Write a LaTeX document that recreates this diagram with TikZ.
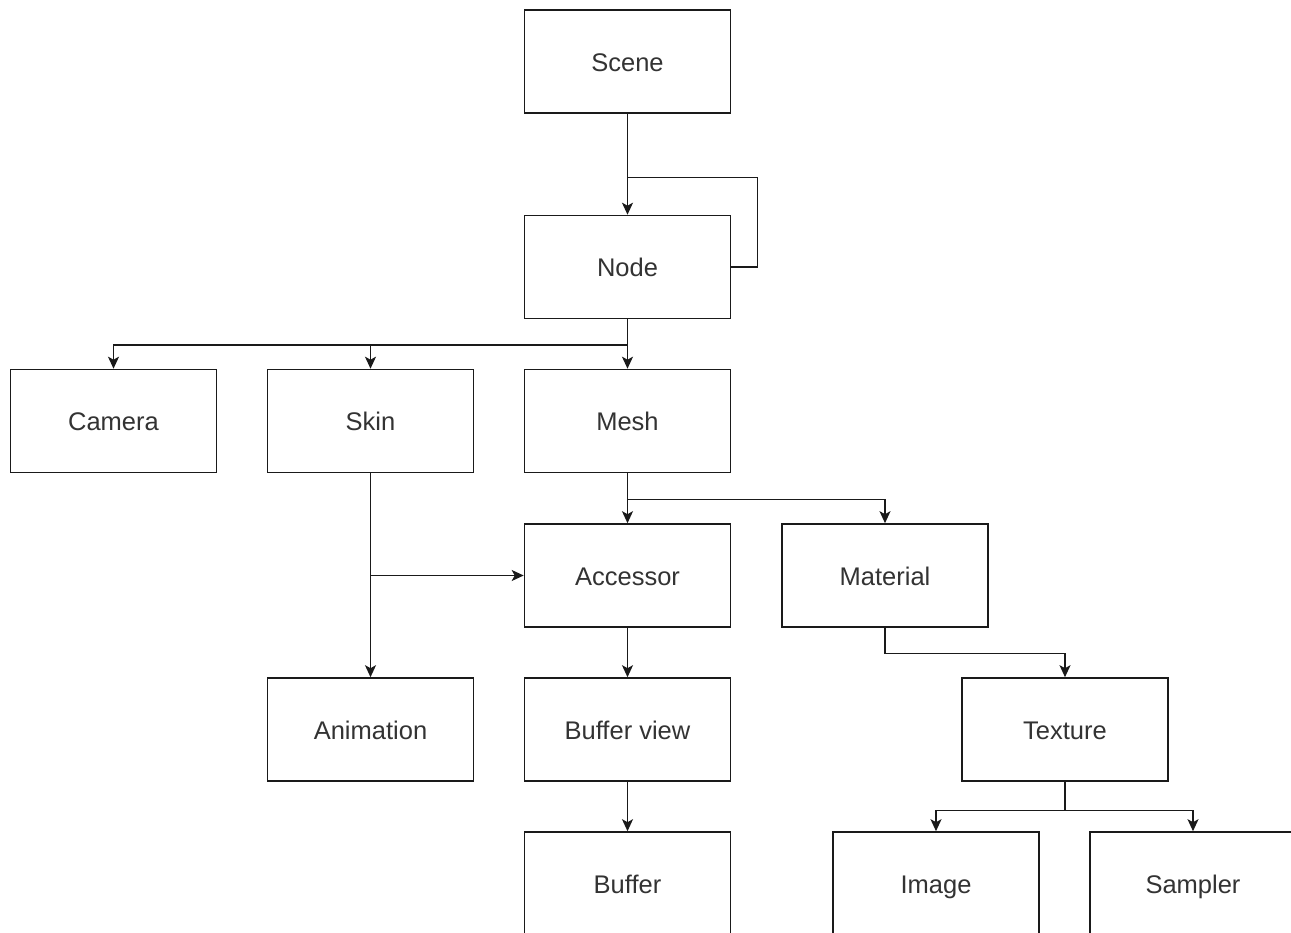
\documentclass[tikz,border=0pt]{standalone}
\usepackage{fontspec}
\setmainfont{Liberation Sans}
\usetikzlibrary{arrows.meta,positioning,calc}
\definecolor{txt}{HTML}{333333}
\definecolor{ln}{HTML}{1A1A1A}
\tikzset{
  box/.style={draw=ln, line width=1.6pt, fill=white, minimum width=206pt,
    minimum height=103pt, inner sep=0pt, font=\fontsize{25.5}{30}\selectfont,
    text=txt, text height=19.4pt, text depth=0pt},
  link/.style={draw=ln, line width=1.6pt},
  arr/.style={link, -{Stealth[length=12pt,width=11pt,inset=3pt]}},
}
\begin{document}
\begin{tikzpicture}[x=1pt,y=-1pt]
  \useasboundingbox (0,0) rectangle (1291,933);
  \clip (0,0) rectangle (1291,933);
  \fill[white] (0,0) rectangle (1291,933);

  % boxes
  \node[box] (scene)   at (627.5, 61.5)  {Scene};
  \node[box] (node)    at (627.5, 267)   {Node};
  \node[box] (camera)  at (113.5, 421)   {Camera};
  \node[box] (skin)    at (370.5, 421)   {Skin};
  \node[box] (mesh)    at (627.5, 421)   {Mesh};
  \node[box] (access)  at (627.5, 575.5) {Accessor};
  \node[box] (mat)     at (885, 575.5)   {Material};
  \node[box] (anim)    at (370.5, 729.5) {Animation};
  \node[box] (bview)   at (627.5, 729.5) {Buffer view};
  \node[box] (tex)     at (1065, 729.5)  {Texture};
  \node[box] (buffer)  at (627.5, 883.5) {Buffer};
  \node[box] (image)   at (936, 883.5)   {Image};
  \node[box] (sampler) at (1193, 883.5)  {Sampler};

  % scene to node, with the node's loop back onto itself
  \coordinate (loopin) at ($(scene.south)!0.63!(node.north)$);
  \draw[link] (node.east) -- ++(26,0) |- (loopin);
  \draw[arr] (scene.south) -- (node.north);

  % node children
  \draw[arr] (node.south) -- ++(0,26) -| (camera.north);
  \draw[arr] (node.south) -- ++(0,26) -| (skin.north);
  \draw[arr] (node.south) -- (mesh.north);

  % mesh children
  \draw[arr] (mesh.south) -- (access.north);
  \draw[arr] (mesh.south) -- ++(0,26) -| (mat.north);

  % skin references
  \coordinate (skinmid) at (skin.south |- access.west);
  \draw[arr] (skin.south) -- (anim.north);
  \draw[arr] (skinmid) -- (access.west);

  % accessor chain
  \draw[arr] (access.south) -- (bview.north);
  \draw[arr] (bview.south) -- (buffer.north);

  % material and texture
  \draw[arr] (mat.south) -- ++(0,25.5) -| (tex.north);
  \draw[arr] (tex.south) -- ++(0,28.5) -| (image.north);
  \draw[arr] (tex.south) -- ++(0,28.5) -| (sampler.north);
\end{tikzpicture}
\end{document}
